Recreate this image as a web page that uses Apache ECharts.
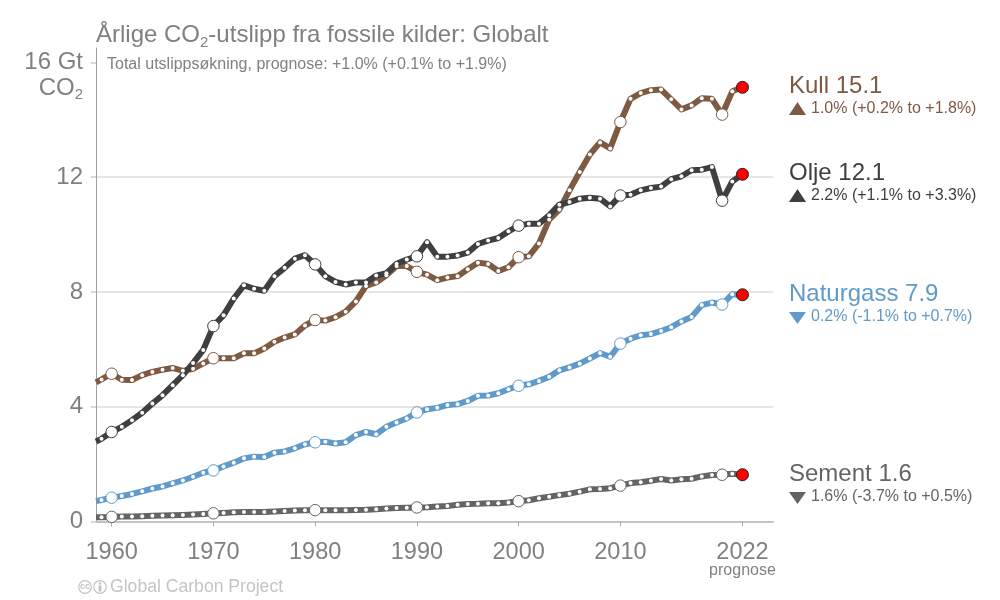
<!DOCTYPE html>
<html>
<head>
<meta charset="utf-8">
<style>html,body{margin:0;padding:0;background:#fff}#c{width:1000px;height:600px}</style>
<script src="https://cdn.jsdelivr.net/npm/echarts@6/dist/echarts.min.js"></script>
</head>
<body>
<div id="c"></div>
<script>
const years = [1958.46,1959,1960,1961,1962,1963,1964,1965,1966,1967,1968,1969,1970,1971,1972,1973,1974,1975,1976,1977,1978,1979,1980,1981,1982,1983,1984,1985,1986,1987,1988,1989,1990,1991,1992,1993,1994,1995,1996,1997,1998,1999,2000,2001,2002,2003,2004,2005,2006,2007,2008,2009,2010,2011,2012,2013,2014,2015,2016,2017,2018,2019,2020,2021,2022];
const coal = [4.85,4.95,5.15,4.94,4.93,5.10,5.21,5.29,5.35,5.25,5.32,5.51,5.69,5.69,5.69,5.86,5.86,6.03,6.26,6.41,6.52,6.83,7.02,7.00,7.12,7.31,7.67,8.21,8.33,8.58,8.90,8.90,8.70,8.60,8.41,8.50,8.55,8.79,9.02,8.97,8.73,8.86,9.21,9.24,9.69,10.52,10.87,11.54,12.18,12.79,13.21,13.00,13.92,14.73,14.93,15.03,15.05,14.71,14.36,14.50,14.75,14.73,14.18,14.99,15.13];
const oil = [2.79,2.88,3.12,3.30,3.53,3.79,4.11,4.40,4.75,5.10,5.52,5.98,6.81,7.19,7.77,8.23,8.11,8.04,8.55,8.84,9.16,9.28,8.96,8.55,8.35,8.26,8.33,8.33,8.57,8.65,8.98,9.13,9.24,9.73,9.23,9.23,9.27,9.37,9.67,9.79,9.88,10.11,10.31,10.38,10.38,10.67,11.04,11.13,11.25,11.28,11.25,10.98,11.36,11.39,11.54,11.62,11.67,11.93,12.03,12.24,12.26,12.35,11.18,11.85,12.10];
const gas = [0.71,0.75,0.83,0.89,0.96,1.05,1.15,1.22,1.33,1.43,1.56,1.70,1.78,1.92,2.05,2.20,2.26,2.25,2.40,2.44,2.55,2.69,2.76,2.78,2.72,2.76,3.01,3.12,3.04,3.30,3.45,3.59,3.80,3.91,3.96,4.06,4.09,4.20,4.38,4.39,4.47,4.61,4.73,4.78,4.90,5.04,5.27,5.37,5.50,5.68,5.87,5.74,6.20,6.37,6.49,6.53,6.64,6.77,6.97,7.13,7.54,7.63,7.56,7.92,7.90];
const cement = [0.145,0.15,0.16,0.17,0.175,0.185,0.20,0.21,0.22,0.23,0.245,0.265,0.285,0.30,0.32,0.33,0.335,0.335,0.35,0.37,0.38,0.39,0.395,0.39,0.39,0.395,0.40,0.41,0.43,0.45,0.47,0.48,0.49,0.50,0.52,0.54,0.58,0.61,0.62,0.64,0.64,0.66,0.71,0.74,0.81,0.86,0.92,0.97,1.04,1.12,1.13,1.16,1.25,1.34,1.37,1.42,1.48,1.43,1.47,1.49,1.57,1.62,1.63,1.66,1.63];
const bigYears = [1960,1970,1980,1990,2000,2010,2020];
const forecastYear = 2022;
const xTicks = [1960,1970,1980,1990,2000,2010,2022];
const yTicks = [0,4,8,12,16];
const FONT = '"Liberation Sans", Arial, sans-serif';
const GREY = '#808080';

const names = ['Kull','Olje','Naturgass','Sement'];
const latest = ['15.1','12.1','7.9','1.6'];
const changes = ['1.0% (+0.2% to +1.8%)','2.2% (+1.1% to +3.3%)','0.2% (-1.1% to +0.7%)','1.6% (-3.7% to +0.5%)'];
const directions = ['up','up','down','down'];
const colors = ['#7f5a42','#3f3f3f','#5f9aca','#646464'];
const labelY = [86,173,294,474];

function makeSeries(name, values, color){
  return {
    type:'line', name, clip:true, showAllSymbol:true, silent:true,
    lineStyle:{color, width:6, join:'round', cap:'butt'},
    data: values.map((v,i)=>{
      const y = years[i];
      let symbolSize = 4, itemStyle = {color:'#fff', borderWidth:0}, symbol = 'circle';
      if (i === 0) { symbol = 'none'; }
      if (bigYears.includes(y)) { symbolSize = 11.5; itemStyle = {color:'#fff', borderColor:color, borderWidth:1}; }
      if (y === forecastYear) { symbolSize = 12; itemStyle = {color:'#ff0000', borderColor:'#222', borderWidth:1}; }
      return {value:[y,v], symbol, symbolSize, itemStyle};
    })
  };
}

const graphics = [];
function txt(x,y,rich,style){
  graphics.push({type:'text',x,y,silent:true,style:Object.assign({fontFamily:FONT,verticalAlign:'middle',align:'left'},style,{text:rich})});
}
names.forEach((n,i)=>{
  const y = labelY[i];
  txt(789,y+0.5,n+' '+latest[i],{fontSize:24,fill:colors[i]});
  txt(811,y+23,changes[i],{fontSize:16,fill:colors[i]});
  const up = directions[i]==='up';
  const t = y+16, b = y+29;
  const pts = up ? [[789,b],[806,b],[797.5,t]] : [[789,t+2],[806,t+2],[797.5,b+1]];
  graphics.push({type:'polygon',silent:true,shape:{points:pts},style:{fill:colors[i]}});
});
// CO2 unit under the top tick label
txt(83,88,'CO{s|2}',{fontSize:24,fill:GREY,align:'right',rich:{s:{fontSize:15,fill:GREY,fontFamily:FONT,padding:[14,0,0,0]}}});
txt(107,64.5,'Total utslippsøkning, prognose: +1.0% (+0.1% to +1.9%)',{fontSize:16,fill:GREY});
txt(110,587,'Global Carbon Project',{fontSize:17.6,fill:'#c4c4c4'});
// Creative Commons marks
graphics.push({type:'circle',silent:true,shape:{cx:85,cy:587,r:6.3},style:{fill:'none',stroke:'#c4c4c4',lineWidth:1.2}});
txt(85,587,'cc',{fontSize:9,fill:'#c4c4c4',align:'center',fontWeight:'bold'});
graphics.push({type:'circle',silent:true,shape:{cx:100,cy:587,r:6.3},style:{fill:'none',stroke:'#c4c4c4',lineWidth:1.2}});
graphics.push({type:'circle',silent:true,shape:{cx:100,cy:583.5,r:1.3},style:{fill:'#c4c4c4'}});
graphics.push({type:'rect',silent:true,shape:{x:98.5,y:585.5,width:3,height:6},style:{fill:'#c4c4c4'}});

const chart = echarts.init(document.getElementById('c'),null,{renderer:'canvas'});
chart.setOption({
  animation:false,
  backgroundColor:'#fff',
  title:{
    left:96, top:21, padding:0,
    text:'Årlige CO{s|2}-utslipp fra fossile kilder: Globalt',
    textStyle:{fontFamily:FONT,fontSize:24,fontWeight:'normal',color:GREY,
      rich:{s:{fontFamily:FONT,fontSize:15,color:GREY,padding:[14,0,0,0]}}}
  },
  grid:{left:96,right:227,top:48,bottom:78.5,containLabel:false},
  xAxis:{
    type:'value',min:1958.46,max:2025,
    axisLine:{show:true,onZero:false,lineStyle:{color:'#c4c4c4',width:2}},
    axisTick:{show:true,customValues:xTicks,length:5,lineStyle:{color:'#aaa',width:1}},
    splitLine:{show:false},
    axisLabel:{
      customValues:xTicks,margin:19,color:GREY,fontFamily:FONT,fontSize:23.5,lineHeight:24,verticalAlign:'top',
      formatter:(v)=> v===forecastYear ? v+'\n{p|prognose}' : String(v),
      rich:{p:{fontFamily:FONT,fontSize:16,color:GREY,lineHeight:12}}
    }
  },
  yAxis:{
    type:'value',min:0,max:16.5,
    axisLine:{show:true,lineStyle:{color:'#a0a0a0',width:1}},
    axisTick:{show:true,customValues:yTicks,length:5,lineStyle:{color:'#d8d8d8',width:2}},
    splitLine:{show:true,showMaxLine:false,lineStyle:{color:'#e6e6e6',width:2}},
    axisLabel:{customValues:yTicks,margin:13,color:GREY,fontFamily:FONT,fontSize:24,
      formatter:(v)=> v===16 ? '16 Gt' : String(v)}
  },
  series:[
    makeSeries(names[0],coal,colors[0]),
    makeSeries(names[1],oil,colors[1]),
    makeSeries(names[2],gas,colors[2]),
    makeSeries(names[3],cement,colors[3])
  ],
  graphic:graphics
});
</script>
</body>
</html>
